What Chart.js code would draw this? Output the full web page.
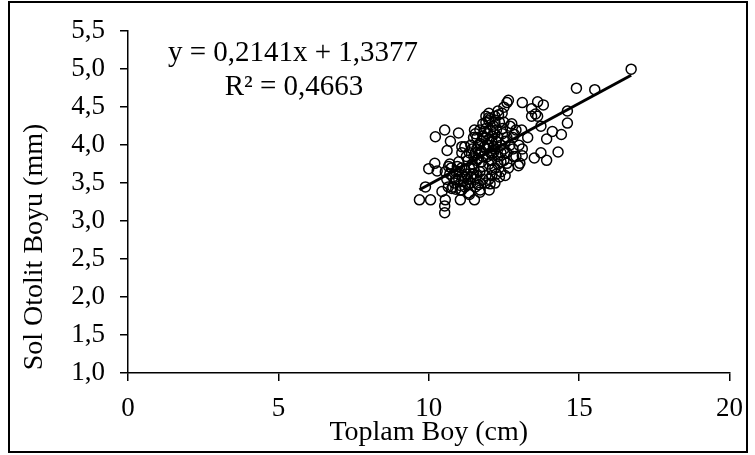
<!DOCTYPE html>
<html>
<head>
<meta charset="utf-8">
<script src="https://cdn.jsdelivr.net/npm/chart.js@4.4.0/dist/chart.umd.min.js"></script>
<style>
  html, body { margin: 0; padding: 0; background: #fff; }
  #wrap { position: absolute; left: 0; top: 0; width: 755px; height: 455px; }
  #frame { position: absolute; left: 8px; top: 1px; width: 740px; height: 452px; border: 2px solid #000; box-sizing: border-box; pointer-events: none; }
</style>
</head>
<body>
<div id="wrap"><canvas id="chart" width="755" height="455"></canvas></div>
<div id="frame"></div>
<script>
// Toplam boy (cm) - x values
const toplamBoy = [
  16.73, 14.91, 15.52, 14.61, 14.61, 14.41, 14.11, 13.92, 14.30, 13.92,
  13.73, 13.51, 13.73, 13.62, 13.81, 13.42, 13.62, 13.42, 13.11, 12.65,
  12.60, 13.09, 13.29, 13.11, 13.11, 13.03, 12.82, 12.54, 12.01, 11.71,
  11.52, 11.05, 11.05, 10.55, 10.53, 10.53, 10.44, 10.06, 9.69, 9.89,
  10.00, 10.20, 10.22, 10.53, 10.99, 10.72, 10.61, 11.10, 11.52, 11.49,
  11.99, 12.32, 12.44, 12.76, 12.85, 12.54, 12.60, 12.04, 11.55, 11.33,
  10.77, 10.66, 10.28, 13.55, 12.98, 11.10, 11.35, 11.70,
  10.60, 10.70, 10.80, 10.90, 11.00, 11.10, 11.20, 11.30, 10.75, 10.85,
  10.95, 11.05, 11.15, 11.25, 11.35, 10.65, 10.90, 11.20, 11.40, 11.45,
  10.70, 11.00, 11.30, 10.55,
  11.50, 11.60, 11.70, 11.80, 11.90, 12.00, 12.10, 12.20, 12.30, 12.40,
  11.60, 11.70, 11.80, 11.90, 12.00, 12.10, 12.20, 12.30, 12.40, 12.50,
  11.75, 11.85, 11.95, 12.05, 12.15, 12.25, 12.35, 12.45, 11.65, 11.55,
  11.50, 11.60, 11.70, 11.80, 11.90, 12.00, 12.10, 12.20, 12.30, 12.40,
  12.50, 12.60, 12.70, 12.60, 12.70, 12.50, 12.00, 12.10, 11.90, 11.80,
  12.20, 12.35, 11.55, 11.45, 11.35, 11.40, 12.80, 12.90, 12.80, 12.90,
  13.00, 12.55, 12.65, 11.95, 12.05, 12.15, 12.25, 11.85, 11.75, 12.45,
  12.00, 12.20, 11.90, 12.30, 12.50, 12.10, 11.65, 11.25, 11.10, 11.20,
  11.60, 11.70, 11.80, 11.90, 12.00, 12.10, 12.20, 11.65, 11.75, 11.85,
  11.95, 12.05, 12.15, 11.50, 11.40, 11.30, 11.20, 11.10, 11.00, 10.90,
  10.80, 11.45, 11.55, 12.25, 12.40
];

// Sol otolit boyu (mm) - y values
const solOtolitBoyu = [
  5.00, 4.75, 4.73, 4.45, 4.29, 4.14, 4.18, 4.08, 3.91, 3.80,
  3.90, 3.83, 4.25, 4.57, 4.53, 4.48, 4.38, 4.38, 4.56, 4.59,
  4.56, 4.20, 4.10, 3.95, 3.86, 3.76, 3.85, 3.60, 3.41, 3.41,
  3.28, 3.28, 3.41, 3.28, 3.20, 3.11, 3.39, 3.28, 3.28, 3.45,
  3.69, 3.76, 4.11, 4.20, 4.16, 4.05, 3.93, 3.98, 4.20, 4.10,
  4.36, 4.40, 4.42, 4.28, 4.14, 3.90, 3.76, 3.49, 3.45, 3.37,
  3.43, 3.72, 3.66, 4.41, 3.73, 3.41, 3.35, 3.38,
  3.55, 3.62, 3.58, 3.65, 3.55, 3.60, 3.68, 3.55, 3.70, 3.50,
  3.72, 3.47, 3.52, 3.62, 3.70, 3.45, 3.42, 3.45, 3.50, 3.62,
  3.75, 3.78, 3.80, 3.65,
  3.70, 3.80, 3.90, 3.85, 3.95, 4.00, 4.05, 3.95, 4.10, 4.00,
  3.60, 3.65, 3.72, 3.60, 3.75, 3.80, 3.70, 3.85, 3.90, 3.95,
  4.05, 4.10, 4.15, 4.20, 4.25, 4.20, 4.30, 4.15, 4.00, 3.90,
  3.85, 4.10, 4.20, 4.28, 4.30, 4.32, 4.12, 4.15, 3.75, 3.65,
  3.80, 3.90, 4.00, 4.10, 4.25, 4.30, 3.55, 3.60, 3.50, 3.55,
  3.50, 3.58, 3.55, 3.75, 3.90, 4.00, 3.95, 3.85, 4.10, 4.20,
  4.00, 4.05, 3.70, 3.85, 3.90, 3.98, 4.05, 3.98, 3.78, 4.22,
  4.42, 4.38, 4.38, 4.45, 4.50, 3.68, 3.48, 3.85, 3.90, 3.98,
  3.95, 4.02, 4.12, 4.22, 4.08, 3.88, 4.30, 3.82, 3.92, 4.18,
  4.00, 4.35, 3.90, 3.62, 3.58, 3.48, 3.58, 3.70, 3.65, 3.55,
  3.45, 3.95, 4.15, 3.62, 3.78
];

const trendSlope = 0.2141;
const trendIntercept = 1.3377;
const equationLines = ["y = 0,2141x + 1,3377", "R\u00b2 = 0,4663"];

const xTitle = "Toplam Boy (cm)";
const yTitle = "Sol Otolit Boyu (mm)";

const serif = '"Liberation Serif", "Times New Roman", serif';

const points = toplamBoy.map((x, i) => ({ x: x, y: solOtolitBoyu[i] }));
const xMin = Math.min(...toplamBoy);
const xMax = Math.max(...toplamBoy);
const trendPoints = [xMin, xMax].map((x) => ({ x: x, y: trendSlope * x + trendIntercept }));

// trendline label + y title (Excel puts it a bit below the axis middle)
const textPlugin = {
  id: "texts",
  afterDraw(chart) {
    const ctx = chart.ctx;
    ctx.save();
    ctx.fillStyle = "#000";
    ctx.font = "29px " + serif;
    ctx.textAlign = "center";
    ctx.textBaseline = "alphabetic";
    ctx.fillText(equationLines[0], 293, 61);
    ctx.fillText(equationLines[1], 294, 95);

    ctx.font = "28px " + serif;
    ctx.textBaseline = "middle";
    ctx.translate(35, 247);
    ctx.rotate(-Math.PI / 2);
    ctx.fillText(yTitle, 0, 0);
    ctx.restore();
  },
};

const axisGrid = {
  display: true,
  drawOnChartArea: false,
  drawTicks: true,
  tickLength: 8,
  color: "#000",
  lineWidth: 1.5,
};

new Chart(document.getElementById("chart"), {
  type: "scatter",
  data: {
    datasets: [
      {
        type: "line",
        data: trendPoints,
        borderColor: "#000",
        borderWidth: 3,
        pointRadius: 0,
        fill: false,
        order: 0,
      },
      {
        data: points,
        pointStyle: "circle",
        pointRadius: 5,
        pointBorderWidth: 1.5,
        pointBorderColor: "#000",
        pointBackgroundColor: "rgba(0,0,0,0)",
        order: 1,
      },
    ],
  },
  options: {
    responsive: false,
    animation: false,
    devicePixelRatio: 1,
    layout: { padding: { left: 0, top: 25, right: 23, bottom: 0 } },
    plugins: {
      legend: { display: false },
      tooltip: { enabled: false },
    },
    scales: {
      x: {
        type: "linear",
        min: 0,
        max: 20,
        ticks: { stepSize: 5, color: "#000", font: { family: serif, size: 27 }, padding: 12 },
        grid: axisGrid,
        border: { display: true, color: "#000", width: 1.5 },
        title: { display: true, text: xTitle, color: "#000", font: { family: serif, size: 28 }, padding: { top: 0, bottom: 6 } },
        afterFit: (s) => { s.height = 82; },
      },
      y: {
        type: "linear",
        min: 1,
        max: 5.5,
        ticks: {
          stepSize: 0.5,
          color: "#000",
          font: { family: serif, size: 27 },
          padding: 15,
          callback: (v) => Number(v).toFixed(1).replace(".", ","),
        },
        grid: axisGrid,
        border: { display: true, color: "#000", width: 1.5 },
        title: { display: false },
        afterFit: (s) => { s.width = 128; },
      },
    },
  },
  plugins: [textPlugin],
});
</script>
</body>
</html>
